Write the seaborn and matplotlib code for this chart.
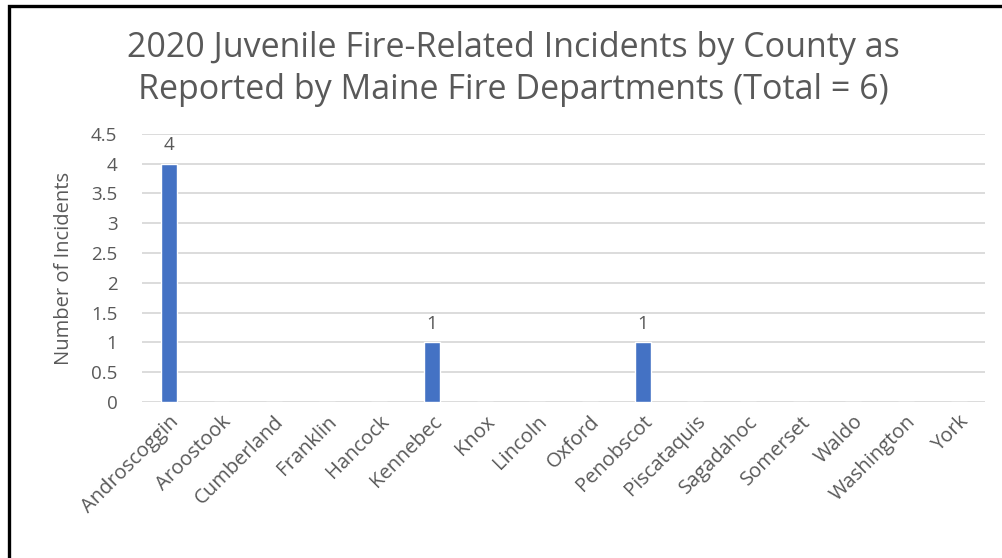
import matplotlib
matplotlib.use("Agg")
from matplotlib import pyplot as plt
from matplotlib.patches import Rectangle
import pandas as pd
import seaborn as sns

counties = ["Androscoggin", "Aroostook", "Cumberland", "Franklin", "Hancock",
            "Kennebec", "Knox", "Lincoln", "Oxford", "Penobscot", "Piscataquis",
            "Sagadahoc", "Somerset", "Waldo", "Washington", "York"]
incidents = [4, 0, 0, 0, 0, 1, 0, 0, 0, 1, 0, 0, 0, 0, 0, 0]

df = pd.DataFrame({"County": counties, "Incidents": incidents})

sns.set_style("white")
plt.rcParams["font.family"] = ["Open Sans", "DejaVu Sans"]
text_gray = "#595959"

fig = plt.figure(figsize=(10.03, 5.58), dpi=100)
ax = fig.add_axes([0.142, 0.2796, 0.84, 0.4804])

ax = sns.barplot(data=df, x="County", y="Incidents", color="#4472C4",
                 width=0.3, saturation=1, ax=ax)

ax.set_ylim(0, 4.5)
ax.set_yticks([0, 0.5, 1, 1.5, 2, 2.5, 3, 3.5, 4, 4.5])
ax.set_yticklabels(["0", "0.5", "1", "1.5", "2", "2.5", "3", "3.5", "4", "4.5"])
ax.yaxis.grid(True, color="#D9D9D9", linewidth=1.3)
ax.set_axisbelow(True)
sns.despine(ax=ax, left=True, bottom=True, top=True, right=True)
ax.tick_params(axis="both", length=0, labelsize=13.5, colors=text_gray)
ax.tick_params(axis="y", pad=18)
ax.tick_params(axis="x", pad=7, labelsize=14.5)
ax.set_xlim(-0.5, len(counties) - 0.5)

plt.setp(ax.get_xticklabels(), rotation=45, ha="right", rotation_mode="anchor")

labels = [str(v) if v > 0 else "" for v in incidents]
ax.bar_label(ax.containers[0], labels=labels, padding=7, fontsize=13.5,
             color=text_gray)

ax.set_xlabel("")
ax.set_ylabel("Number of Incidents", fontsize=14.5, color=text_gray, labelpad=12)

fig.text(0.512, 0.877, "2020 Juvenile Fire-Related Incidents by County as\n"
         "Reported by Maine Fire Departments (Total = 6)",
         ha="center", va="center", fontsize=24.5, color=text_gray,
         linespacing=1.3)

# screenshot frame (only top and left edges visible)
fig.patches.append(Rectangle((0.009, -0.1), 1.2, 1.089, transform=fig.transFigure,
                             fill=False, edgecolor="black", linewidth=2.4))

plt.savefig("out.png", dpi=100)
